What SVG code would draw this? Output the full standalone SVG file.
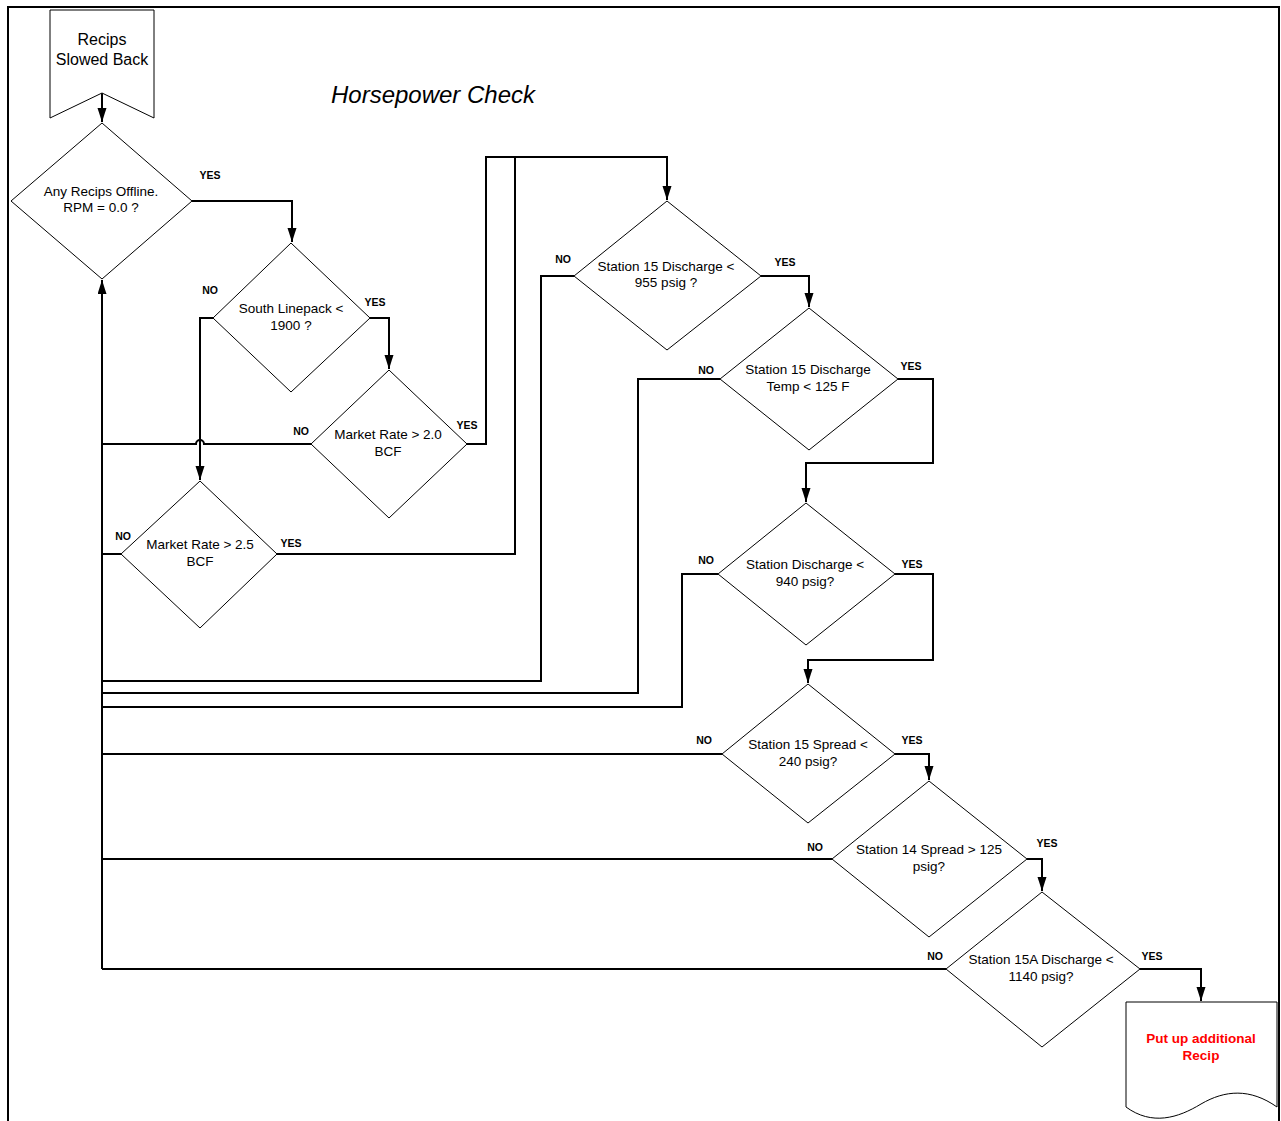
<svg xmlns="http://www.w3.org/2000/svg" width="1281" height="1121" viewBox="0 0 1281 1121">
<style>
.shape{fill:#fff;stroke:#000;stroke-width:1}
.con{fill:none;stroke:#000;stroke-width:2}
.t{font-family:"Liberation Sans",Arial,sans-serif;font-size:13.5px;text-anchor:middle;fill:#000}
.lbl{font-family:"Liberation Sans",Arial,sans-serif;font-size:10.5px;font-weight:bold;text-anchor:middle;fill:#000}
.red{font-family:"Liberation Sans",Arial,sans-serif;font-size:13.5px;font-weight:bold;text-anchor:middle;fill:#ff0000}
</style>
<defs>
<marker id="ah" markerUnits="userSpaceOnUse" markerWidth="15" markerHeight="10" refX="14" refY="4.5" orient="auto">
<path d="M0,0 L14,4.5 L0,9 z" fill="#000"/>
</marker>
</defs>
<rect width="1281" height="1121" fill="#fff"/>
<path d="M8,1121 V7 H1279 V1121" fill="none" stroke="#000" stroke-width="2"/>
<text x="433" y="103" font-family="Liberation Sans, Arial, sans-serif" font-size="24" font-style="italic" text-anchor="middle">Horsepower Check</text>

<g id="connectors">
<path class="con" d="M102,93 V122" marker-end="url(#ah)"/>
<path class="con" d="M192,201 H292 V242" marker-end="url(#ah)"/>
<path class="con" d="M370,318 H389 V369" marker-end="url(#ah)"/>
<path class="con" d="M213,318 H200 V480" marker-end="url(#ah)"/>
<path class="con" d="M311,444 H204 A4,4 0 0 0 196,444 H102"/>
<path class="con" d="M102,969 V280" marker-end="url(#ah)"/>
<path class="con" d="M467,444 H486 V157 H667 V200" marker-end="url(#ah)"/>
<path class="con" d="M121,554 H102"/>
<path class="con" d="M277,554 H515 V157"/>
<path class="con" d="M574,276 H541 V681 H102"/>
<path class="con" d="M761,276 H809 V307" marker-end="url(#ah)"/>
<path class="con" d="M720,379 H638 V693 H102"/>
<path class="con" d="M898,379 H933 V463 H806 V502" marker-end="url(#ah)"/>
<path class="con" d="M718,574 H682 V707 H102"/>
<path class="con" d="M895,574 H933 V660 H808 V683" marker-end="url(#ah)"/>
<path class="con" d="M722,754 H102"/>
<path class="con" d="M895,754 H929 V780" marker-end="url(#ah)"/>
<path class="con" d="M832,859 H102"/>
<path class="con" d="M1027,859 H1042 V891" marker-end="url(#ah)"/>
<path class="con" d="M946,969 H102"/>
<path class="con" d="M1140,969 H1201 V1001" marker-end="url(#ah)"/>
</g>

<g id="labels">
<text class="lbl" x="210" y="179">YES</text>
<text class="lbl" x="210" y="294">NO</text>
<text class="lbl" x="375" y="306">YES</text>
<text class="lbl" x="301" y="435">NO</text>
<text class="lbl" x="467" y="429">YES</text>
<text class="lbl" x="123" y="540">NO</text>
<text class="lbl" x="291" y="547">YES</text>
<text class="lbl" x="563" y="263">NO</text>
<text class="lbl" x="785" y="266">YES</text>
<text class="lbl" x="706" y="374">NO</text>
<text class="lbl" x="911" y="370">YES</text>
<text class="lbl" x="706" y="564">NO</text>
<text class="lbl" x="912" y="568">YES</text>
<text class="lbl" x="704" y="744">NO</text>
<text class="lbl" x="912" y="744">YES</text>
<text class="lbl" x="815" y="851">NO</text>
<text class="lbl" x="1047" y="847">YES</text>
<text class="lbl" x="935" y="960">NO</text>
<text class="lbl" x="1152" y="960">YES</text>
</g>

<g id="start">
<polygon class="shape" points="50,10 154,10 154,118 102,93 50,118"/>
<text class="t" style="font-size:16px" x="102" y="45">Recips</text>
<text class="t" style="font-size:16px" x="102" y="65">Slowed Back</text>
</g>
<g id="d1">
<polygon class="shape" points="102,123 192,201 102,279 11,201"/>
<text class="t" x="101" y="196">Any Recips Offline.</text>
<text class="t" x="101" y="212">RPM = 0.0 ?</text>
</g>
<g id="d2">
<polygon class="shape" points="291,243 370,318 291,392 213,318"/>
<text class="t" x="291" y="313">South Linepack &lt;</text>
<text class="t" x="291" y="330">1900 ?</text>
</g>
<g id="d3">
<polygon class="shape" points="389,370 467,444 389,518 311,444"/>
<text class="t" x="388" y="439">Market Rate &gt; 2.0</text>
<text class="t" x="388" y="456">BCF</text>
</g>
<g id="d4">
<polygon class="shape" points="200,481 277,554 200,628 121,554"/>
<text class="t" x="200" y="549">Market Rate &gt; 2.5</text>
<text class="t" x="200" y="566">BCF</text>
</g>
<g id="d5">
<polygon class="shape" points="667,201 761,276 667,350 574,276"/>
<text class="t" x="666" y="271">Station 15 Discharge &lt;</text>
<text class="t" x="666" y="287">955 psig ?</text>
</g>
<g id="d6">
<polygon class="shape" points="809,308 898,379 809,450 720,379"/>
<text class="t" x="808" y="374">Station 15 Discharge</text>
<text class="t" x="808" y="391">Temp &lt; 125 F</text>
</g>
<g id="d7">
<polygon class="shape" points="806,503 895,574 806,645 718,574"/>
<text class="t" x="805" y="569">Station Discharge &lt;</text>
<text class="t" x="805" y="586">940 psig?</text>
</g>
<g id="d8">
<polygon class="shape" points="808,684 895,754 808,823 722,754"/>
<text class="t" x="808" y="749">Station 15 Spread &lt;</text>
<text class="t" x="808" y="766">240 psig?</text>
</g>
<g id="d9">
<polygon class="shape" points="929,781 1027,859 929,937 832,859"/>
<text class="t" x="929" y="854">Station 14 Spread &gt; 125</text>
<text class="t" x="929" y="871">psig?</text>
</g>
<g id="d10">
<polygon class="shape" points="1042,892 1140,969 1042,1047 946,969"/>
<text class="t" x="1041" y="964">Station 15A Discharge &lt;</text>
<text class="t" x="1041" y="981">1140 psig?</text>
</g>
<g id="end">
<path class="shape" d="M1126,1002 H1277 V1107 C1250,1088 1225,1090 1201,1104 C1178,1118 1152,1126 1126,1107 Z"/>
<text class="red" x="1201" y="1043">Put up additional</text>
<text class="red" x="1201" y="1060">Recip</text>
</g>
</svg>
